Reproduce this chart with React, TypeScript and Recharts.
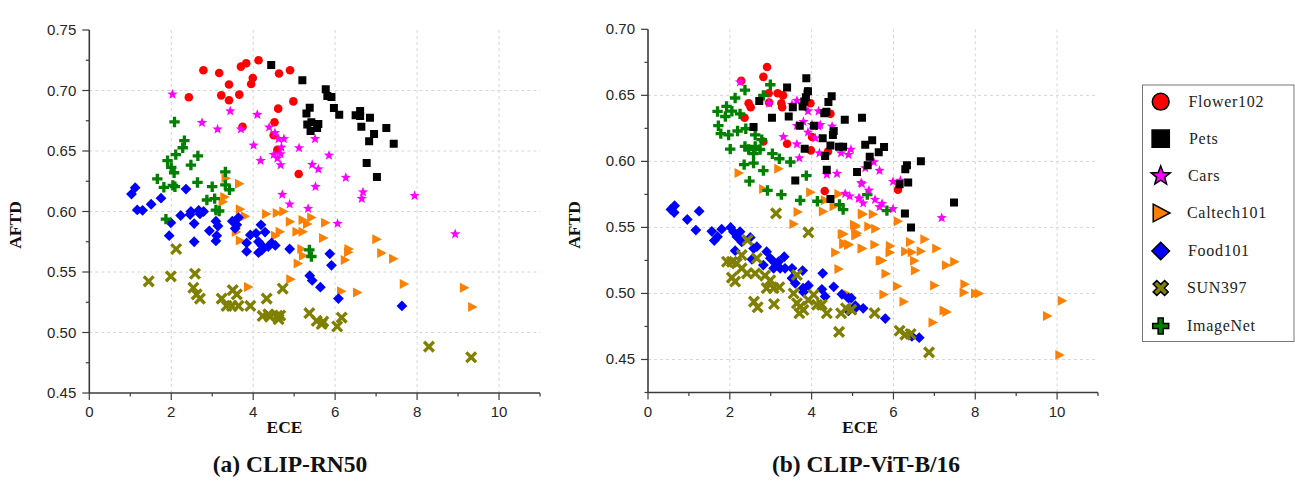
import React from "react";
import { ScatterChart, Scatter, XAxis, YAxis, CartesianGrid } from "recharts";

type P = [number, number];

// ---------- CLIP-RN50 ----------
const rnFlower: P[] = [[2.785,.7167],[3.17,.7145],[2.43,.6944],[3.22,.696],[3.41,.705],[3.41,.692],[3.66,.6966],[3.7,.7197],[3.83,.7225],[3.99,.7103],[3.95,.7054],[4.13,.725],[4.63,.714],[4.9,.7167],[4.98,.691],[4.61,.685],[4.52,.6737],[4.5,.663],[3.74,.67],[4.59,.651],[5.11,.631]];
const rnPets: P[] = [[4.44,.721],[5.2,.7084],[5.77,.701],[5.81,.6955],[5.91,.6946],[5.97,.6855],[6.1,.68],[5.38,.6858],[5.3,.681],[5.42,.6737],[5.32,.672],[5.59,.6723],[5.56,.669],[5.4,.6665],[6.5,.6795],[6.61,.683],[6.61,.679],[6.85,.6775],[6.64,.67],[7.25,.669],[6.95,.664],[6.83,.658],[7.43,.656],[6.77,.64],[7.02,.6285]];
const rnCars: P[] = [[2.03,.6968],[2.75,.6734],[3.13,.668],[3.44,.683],[3.7,.668],[4.1,.68],[4.39,.6696],[4.53,.665],[4.62,.66],[4.75,.66],[4.69,.653],[4.01,.6547],[4.18,.642],[4.5,.647],[4.67,.6475],[4.59,.644],[4.67,.6384],[4.71,.614],[4.89,.606],[5.51,.66],[5.12,.6525],[5.85,.6464],[5.44,.6387],[5.59,.635],[6.26,.628],[5.52,.6205],[5.34,.6024],[6.68,.616],[6.65,.6106],[7.94,.613],[6.06,.59],[8.93,.5814]];
const rnCaltech: P[] = [[3.33,.6274],[3.66,.623],[3.3,.612],[3.26,.608],[3.68,.6018],[3.8,.596],[4.32,.598],[4.58,.5988],[4.74,.6],[4.9,.5916],[5.21,.593],[5.32,.5896],[5.42,.595],[5.76,.5907],[5.06,.5833],[5.21,.5833],[4.65,.5833],[5.71,.578],[7.01,.577],[6.33,.569],[6.32,.5664],[5.18,.569],[5.22,.5634],[7.13,.5656],[6.24,.56],[7.42,.561],[5.09,.557],[4.91,.544],[6.15,.534],[6.54,.533],[7.68,.54],[9.15,.537],[9.35,.521],[3.58,.583],[3.68,.576],[4.54,.58],[3.88,.5377]];
const rnFood: P[] = [[1.12,.6197],[1.03,.6144],[1.17,.6013],[1.3,.601],[1.51,.606],[1.75,.611],[2.36,.6185],[1.99,.5907],[1.95,.58],[2.23,.5967],[2.46,.5975],[2.48,.6],[2.67,.601],[2.79,.6],[2.7,.598],[2.56,.59],[2.56,.575],[2.93,.584],[3.09,.592],[3.14,.588],[3.11,.58],[3.09,.5757],[3.49,.592],[3.64,.595],[3.56,.586],[3.6,.589],[3.84,.574],[3.84,.567],[3.93,.5806],[4.07,.582],[4.19,.589],[4.29,.583],[4.13,.575],[4.21,.572],[4.13,.566],[4.37,.571],[4.54,.572],[4.45,.574],[4.21,.568],[4.89,.569],[5.87,.565],[5.91,.5555],[5.38,.547],[5.44,.543],[5.64,.5375],[6.08,.528],[7.63,.522]];
const rnSun: P[] = [[1.45,.5423],[1.99,.5464],[2.12,.569],[2.58,.5486],[2.54,.537],[2.62,.5315],[2.7,.528],[3.23,.528],[3.35,.522],[3.5,.535],[3.6,.5315],[3.48,.522],[3.64,.522],[3.93,.522],[4.33,.528],[4.23,.5137],[4.37,.515],[4.41,.513],[4.59,.5137],[4.66,.514],[4.62,.511],[4.72,.5363],[5.37,.516],[5.55,.5096],[5.67,.507],[5.71,.509],[6.05,.505],[6.16,.5123],[8.29,.4883],[9.32,.4795]];
const rnImageNet: P[] = [[2.08,.674],[2.32,.6586],[2.28,.6527],[1.91,.642],[2.11,.647],[2.65,.646],[2.48,.6384],[2,.6365],[2.07,.632],[1.66,.627],[1.82,.62],[2.04,.6216],[2.09,.6205],[2.64,.624],[3,.6205],[3.32,.6327],[3.32,.622],[3.42,.618],[2.87,.6095],[3.06,.6106],[3.09,.6012],[3.17,.6004],[1.87,.5937],[5.37,.5683],[5.42,.5628]];

// ---------- CLIP-ViT-B/16 ----------
const vitFlower: P[] = [[2.28,.661],[2.91,.6715],[2.82,.664],[2.95,.6516],[3.17,.6516],[3.3,.65],[3.26,.644],[3.28,.641],[2.46,.644],[2.51,.641],[2.36,.633],[2.96,.6446],[2.82,.615],[3.4,.6133],[3.9,.653],[3.97,.644],[4.46,.636],[4.01,.6184],[3.98,.6083],[4.32,.5776],[4.4,.6075],[6.11,.5786]];
const vitPets: P[] = [[3.87,.663],[3.4,.656],[3.91,.653],[4.49,.6494],[4.41,.645],[3.86,.6486],[3.82,.6453],[3.78,.6416],[3.54,.641],[2.72,.6458],[3.03,.633],[3.44,.634],[2.58,.626],[4.31,.6365],[4.36,.6375],[4.81,.6315],[5.23,.633],[3.71,.627],[4.06,.627],[4.54,.623],[4.52,.62],[4.27,.6176],[4.46,.612],[4.67,.611],[4.77,.611],[3.83,.6096],[4.33,.604],[4.37,.5937],[5.11,.592],[3.6,.5856],[4.46,.5715],[5.31,.6126],[5.48,.616],[5.77,.6108],[5.64,.607],[5.42,.6035],[5.37,.597],[6.67,.6],[6.33,.597],[6.29,.594],[6.36,.584],[6.15,.5826],[7.48,.5688],[6.28,.5605],[6.43,.55]];
const vitCars: P[] = [[2.25,.66],[2.96,.644],[3.64,.646],[3.52,.643],[3.91,.638],[4.17,.638],[3.64,.627],[3.8,.63],[4.01,.6277],[4.21,.6277],[4.5,.6265],[3.91,.622],[4.09,.6176],[4.17,.6265],[3.31,.6186],[3.64,.613],[3.7,.6025],[4.19,.6063],[4.72,.6063],[4.9,.605],[4.96,.609],[4.37,.59],[4.62,.5907],[5.23,.583],[4.82,.5756],[4.93,.5736],[5.15,.572],[5.52,.5995],[5.66,.593],[5.31,.595],[5.21,.5837],[5.4,.578],[5.17,.572],[5.26,.5683],[5.55,.571],[5.72,.568],[5.66,.5655],[5.99,.564],[5.99,.5847],[6.17,.5855],[7.18,.5572]];
const vitCaltech: P[] = [[2.22,.5912],[3.19,.5945],[2.82,.579],[3.97,.5766],[3.66,.5617],[4.28,.562],[4.33,.5705],[4.54,.566],[4.66,.5753],[3.56,.5526],[5.07,.5514],[5.23,.5605],[4.78,.545],[5.09,.544],[5.07,.5505],[4.78,.538],[4.9,.5367],[4.58,.531],[5.23,.534],[4.66,.5185],[4.9,.499],[5.24,.5597],[5.5,.5599],[6.11,.5547],[5.04,.552],[5.11,.5456],[5.39,.5506],[5.56,.549],[4.74,.5448],[5.07,.5443],[4.78,.5373],[4.9,.5373],[5.23,.534],[5.54,.5368],[5.92,.536],[5.91,.531],[6.29,.5317],[6.45,.5312],[6.67,.532],[6.41,.539],[6.76,.541],[7.05,.534],[6.51,.5247],[6.53,.5174],[5.67,.5247],[5.72,.525],[5.81,.515],[7.49,.524],[7.29,.5214],[7.74,.507],[7.72,.5007],[8,.5],[8.09,.5],[7,.506],[6.09,.5055],[5.76,.4992],[6.25,.4937],[10.12,.4945],[7.3,.486],[7.23,.487],[6.96,.478],[9.76,.483],[10.06,.4534]];
const vitFood: P[] = [[.56,.5636],[.65,.5664],[.64,.5613],[.96,.556],[1.25,.5623],[1.17,.548],[1.56,.547],[1.8,.5487],[1.7,.543],[1.62,.54],[2.02,.55],[2.09,.5467],[2.25,.5467],[2.17,.543],[2.29,.539],[2.5,.5424],[2.13,.5324],[2.58,.534],[2.66,.5354],[2.54,.5258],[2.9,.5316],[2.99,.5266],[2.82,.5215],[3.07,.519],[3.11,.5228],[3.19,.524],[3.33,.5278],[3.23,.519],[3.35,.519],[3.52,.519],[3.78,.5173],[3.52,.5115],[3.6,.5077],[3.79,.504],[3.8,.501],[3.92,.506],[4.27,.5152],[4.25,.5031],[4.33,.4977],[4.54,.505],[4.74,.4994],[4.9,.4964],[4.9,.4868],[5.09,.4895],[4.97,.4965],[5.07,.4907],[5.26,.4887],[5.8,.481],[6.45,.4675],[6.63,.4665]];
const vitSun: P[] = [[3.13,.5606],[3.92,.5462],[2.43,.5404],[1.93,.524],[2.05,.524],[2.17,.5228],[2.29,.529],[2.66,.5266],[2.29,.519],[2.05,.512],[2.13,.509],[2.42,.5152],[2.62,.5152],[2.86,.5135],[2.99,.51],[2.9,.504],[3.07,.504],[3.21,.5047],[2.59,.4938],[2.68,.4895],[3.08,.492],[3.64,.514],[3.56,.5],[3.64,.4926],[3.72,.49],[3.7,.485],[3.8,.4875],[3.92,.495],[4.05,.499],[4.13,.4914],[4.25,.4914],[4.37,.485],[4.72,.485],[4.84,.4888],[4.67,.4709],[4.97,.4877],[5.54,.4851],[6.15,.4718],[6.29,.4688],[6.42,.4693],[6.87,.4554]];
const vitImageNet: P[] = [[2.99,.658],[2.37,.654],[2.13,.648],[2.82,.65],[1.7,.6378],[1.92,.6416],[1.89,.634],[2.05,.638],[2.25,.636],[1.72,.627],[1.78,.621],[1.97,.62],[2.19,.623],[2.39,.6247],[2.62,.62],[2.78,.6164],[2.01,.6093],[2.37,.6113],[2.46,.609],[2.62,.6113],[2.74,.609],[2.58,.6058],[2.35,.5975],[2.58,.5987],[2.82,.593],[3.04,.6058],[3.21,.602],[3.48,.5995],[2.48,.585],[3.87,.5892],[2.92,.578],[3.26,.5748],[3.72,.5705],[4.14,.5698],[4.68,.5673],[4.77,.5635],[5.36,.5748],[5.84,.5627]];

// ---------- axes and legend labels ----------
const xTicks = [0,1,2,3,4,5,6,7,8,9,10,11];
const xGrid = [2,4,6,8,10];
const rnYTicks = [0.45,0.475,0.5,0.525,0.55,0.575,0.6,0.625,0.65,0.675,0.7,0.725,0.75];
const rnYGrid = [0.5,0.55,0.6,0.65,0.7];
const vitYTicks = [0.425,0.45,0.475,0.5,0.525,0.55,0.575,0.6,0.625,0.65,0.675,0.7];
const vitYGrid = [0.45,0.5,0.55,0.6,0.65];
const legendNames = ["Flower102","Pets","Cars","Caltech101","Food101","SUN397","ImageNet"];
const captions = ["(a) CLIP-RN50","(b) CLIP-ViT-B/16"];

type Kind = "circle"|"square"|"star"|"tri"|"diamond"|"x"|"plus";
const KINDS: Kind[] = ["circle","square","star","tri","diamond","x","plus"];
const COLORS = ["#ff0000","#000000","#ff00ff","#ff8000","#0000ff","#808000","#008000"];
const CHART_SIZE: Record<Kind, number> = { circle: 4.3, square: 4, star: 5.4, tri: 5, diamond: 5.4, x: 6.4, plus: 5.2 };
const LEGEND_SIZE: Record<Kind, number> = { circle: 8.4, square: 8.6, star: 10, tri: 8.8, diamond: 8.8, x: 7.5, plus: 8 };

function markPath(kind: Kind, s: number, thin: boolean): string {
  const poly = (pts: number[][]) => "M" + pts.map(p => p[0].toFixed(2) + " " + p[1].toFixed(2)).join("L") + "Z";
  if (kind === "square") return poly([[-s,-s],[s,-s],[s,s],[-s,s]]);
  if (kind === "diamond") return poly([[0,-s],[s,0],[0,s],[-s,0]]);
  if (kind === "tri") return poly([[-s*0.85,-s],[s*1.05,0],[-s*0.85,s]]);
  if (kind === "star") {
    const pts: number[][] = [];
    for (let i = 0; i < 10; i++) {
      const r = i % 2 ? s * 0.42 : s;
      const a = -Math.PI / 2 + (i * Math.PI) / 5;
      pts.push([r * Math.cos(a), r * Math.sin(a)]);
    }
    return poly(pts);
  }
  const a = s * (kind === "x" && thin ? 0.24 : 0.32);
  const plus = [[-a,-s],[a,-s],[a,-a],[s,-a],[s,a],[a,a],[a,s],[-a,s],[-a,a],[-s,a],[-s,-a],[-a,-a]];
  if (kind === "plus") return poly(plus);
  const k = Math.SQRT1_2 * 1.08;
  return poly(plus.map(([x, y]) => [(x - y) * k, (x + y) * k]));
}

function Mark({ kind, cx, cy, fill, size, stroke }: { kind: Kind; cx: number; cy: number; fill: string; size: number; stroke?: string }) {
  const sw = stroke ? 1.5 : 0;
  if (kind === "circle") return <circle cx={cx} cy={cy} r={size} fill={fill} stroke={stroke || "none"} strokeWidth={sw} />;
  return <path d={markPath(kind, size, !stroke)} transform={`translate(${cx} ${cy})`} fill={fill} stroke={stroke || "none"} strokeWidth={sw} strokeLinejoin="miter" />;
}

const AXIS = "#3c3c3c";
const TICK_TEXT = "#262626";
const SANS = "'Liberation Sans', Arial, sans-serif";
const SERIF = "'Liberation Serif', 'Times New Roman', serif";

const isEven = (v: number) => Math.round(v) % 2 === 0 && v < 11;
const isMajorY = (v: number) => Math.round(v * 1000) % 50 === 0;

function Panel({ left, plotLeft, plotRight, plotTop, plotBottom, yDomain, yTicks, yGrid, series }: {
  left: number; plotLeft: number; plotRight: number; plotTop: number; plotBottom: number;
  yDomain: [number, number]; yTicks: number[]; yGrid: number[]; series: P[][];
}) {
  const W = 560, H = 440;
  const XTick = (p: any) => {
    const major = isEven(p.payload.value);
    return (
      <g>
        <line x1={p.x} x2={p.x} y1={plotBottom} y2={plotBottom + (major ? 7 : 3.5)} stroke={AXIS} strokeWidth={1.2} />
        {major && <text x={p.x} y={plotBottom + 24} textAnchor="middle" fontFamily={SANS} fontSize={15} fill={TICK_TEXT}>{p.payload.value}</text>}
      </g>
    );
  };
  const YTick = (p: any) => {
    const major = isMajorY(p.payload.value);
    return (
      <g>
        <line x1={plotLeft} x2={plotLeft - (major ? 7 : 3.5)} y1={p.y} y2={p.y} stroke={AXIS} strokeWidth={1.2} />
        {major && <text x={plotLeft - 13} y={p.y + 5} textAnchor="end" fontFamily={SANS} fontSize={15} fill={TICK_TEXT}>{p.payload.value.toFixed(2)}</text>}
      </g>
    );
  };
  // paint order seen in the reference: Flower, Caltech, Food, SUN, ImageNet, Cars, Pets
  const order = [0, 3, 4, 5, 6, 2, 1];
  return (
    <div style={{ position: "absolute", left, top: 0 }}>
      <ScatterChart width={W} height={H} margin={{ left: 0, top: plotTop, right: W - plotRight, bottom: 0 }}>
        <CartesianGrid stroke="#d6d6d6" strokeWidth={1} strokeDasharray="3 3" verticalValues={xGrid} horizontalValues={yGrid} />
        <XAxis type="number" dataKey="x" domain={[0, 11]} ticks={xTicks} interval={0} height={H - plotBottom} tick={XTick} tickLine={false} stroke={AXIS} strokeWidth={1.6} allowDataOverflow />
        <YAxis type="number" dataKey="y" domain={yDomain} ticks={yTicks} interval={0} width={plotLeft} tick={YTick} tickLine={false} stroke={AXIS} strokeWidth={1.6} allowDataOverflow />
        {order.map(i => (
          <Scatter key={legendNames[i]} name={legendNames[i]} isAnimationActive={false}
            data={series[i].map(([x, y]) => ({ x, y }))}
            shape={(p: any) => <Mark kind={KINDS[i]} cx={p.cx} cy={p.cy} fill={COLORS[i]} size={CHART_SIZE[KINDS[i]]} />} />
        ))}
      </ScatterChart>
    </div>
  );
}

const absText = (x: number, y: number, size: number, extra: React.CSSProperties = {}): React.CSSProperties => ({
  position: "absolute", left: x, top: y, transform: "translate(-50%,-50%)", fontFamily: SERIF, fontWeight: 700,
  fontSize: size, color: "#111", whiteSpace: "nowrap", lineHeight: 1, ...extra,
});

const legendY = [101.7, 138.7, 176, 213, 251, 288, 326];
const legendTextX = [1188.5, 1189, 1188, 1187, 1188, 1187, 1187];
const AFTD_TF = "translate(-50%,-50%) rotate(-90deg)";

export default function App() {
  return (
    <div style={{ position: "absolute", left: 0, top: 0, width: 1295, height: 489, background: "#fff", overflow: "hidden" }}>
      <Panel left={0} plotLeft={89.3} plotRight={540} plotTop={30} plotBottom={393} yDomain={[0.45, 0.75]} yTicks={rnYTicks} yGrid={rnYGrid}
        series={[rnFlower, rnPets, rnCars, rnCaltech, rnFood, rnSun, rnImageNet]} />
      <Panel left={560} plotLeft={88} plotRight={538} plotTop={29.3} plotBottom={392.5} yDomain={[0.425, 0.7]} yTicks={vitYTicks} yGrid={vitYGrid}
        series={[vitFlower, vitPets, vitCars, vitCaltech, vitFood, vitSun, vitImageNet]} />

      <div style={absText(16, 224.5, 17.5, { transform: AFTD_TF })}>AFTD</div>
      <div style={absText(575, 224.5, 17.5, { transform: AFTD_TF })}>AFTD</div>
      <div style={absText(284.5, 428, 17.5)}>ECE</div>
      <div style={absText(860, 428, 17.5)}>ECE</div>
      <div style={absText(290, 465, 23.5)}>{captions[0]}</div>
      <div style={absText(866, 465, 23.5)}>{captions[1]}</div>

      <svg width={1295} height={489} style={{ position: "absolute", left: 0, top: 0, pointerEvents: "none" }}>
        <rect x={1142.5} y={85} width={151.5} height={256.5} fill="#fff" stroke="#777" strokeWidth={1} />
        {legendNames.map((name, i) => (
          <g key={name}>
            <Mark kind={KINDS[i]} cx={1160.7} cy={legendY[i]} fill={COLORS[i]} size={LEGEND_SIZE[KINDS[i]]} stroke="#000" />
            <text x={legendTextX[i]} y={legendY[i] + 5} fontFamily={SERIF} fontSize={16} letterSpacing={0.7} fill="#222">{name}</text>
          </g>
        ))}
      </svg>
    </div>
  );
}
